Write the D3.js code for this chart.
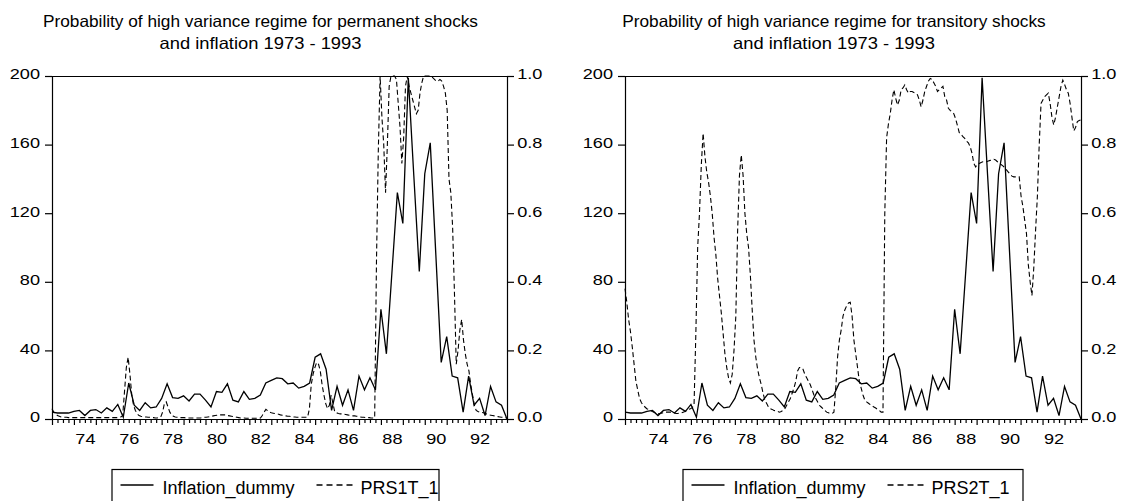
<!DOCTYPE html>
<html>
<head>
<meta charset="utf-8">
<script src="https://cdn.jsdelivr.net/npm/d3@7"></script>
<style>
  body { margin: 0; background: #fff; }
  svg { display: block; font-family: "Liberation Sans", Arial, sans-serif; }
</style>
</head>
<body>
<script>
// quarterly inflation dummy, 1973Q1 - 1993Q4
const inflation = [
  4, 3.5, 3.5, 3.5, 4.5, 5, 2, 5, 5.5, 3.5,
  6.5, 4.5, 8.5, 1, 21, 8, 5, 9.5, 6.5, 7,
  12, 20.5, 12.5, 12, 13.5, 10.5, 14.5, 14.5, 11, 7,
  16, 15.5, 20.5, 11, 10, 16, 11.5, 12, 14, 21,
  22.5, 24, 23.5, 20.5, 21, 18, 19, 21, 36, 38,
  29, 5, 19, 8, 17, 5, 25, 17, 24, 17,
  64, 38, 85, 132, 114, 199, 142, 86, 143, 161,
  97, 33, 48, 25, 24, 4, 25, 8, 12, 2,
  19, 10, 8, 0
];

// monthly regime probabilities, 1973M1 - 1993M12 (one row per year)
const prs1t = [
  0.03, 0.02, 0.015, 0.01, 0.008, 0.006, 0.005, 0.005, 0.005, 0.004, 0.004, 0.004,
  0.004, 0.004, 0.004, 0.004, 0.004, 0.004, 0.004, 0.004, 0.004, 0.004, 0.004, 0.004,
  0.004, 0.004, 0.004, 0.004, 0.004, 0.004, 0.004, 0.004, 0.004, 0.004, 0.004, 0.004,
  0.004, 0.005, 0.006, 0.01, 0.08, 0.15, 0.18, 0.13, 0.07, 0.04, 0.025, 0.015,
  0.01, 0.008, 0.007, 0.006, 0.006, 0.005, 0.005, 0.004, 0.004, 0.003, 0.003, 0.004,
  0.006, 0.02, 0.045, 0.05, 0.035, 0.02, 0.012, 0.008, 0.006, 0.005, 0.004, 0.004,
  0.004, 0.004, 0.003, 0.003, 0.003, 0.003, 0.003, 0.003, 0.003, 0.003, 0.003, 0.004,
  0.005, 0.005, 0.006, 0.007, 0.008, 0.009, 0.01, 0.011, 0.012, 0.012, 0.012, 0.012,
  0.012, 0.01, 0.009, 0.008, 0.007, 0.006, 0.005, 0.004, 0.003, 0.003, 0.003, 0.002,
  0.002, 0.002, 0.002, 0.002, 0.002, 0.002, 0.002, 0.003, 0.01, 0.02, 0.028, 0.024,
  0.02, 0.018, 0.017, 0.016, 0.015, 0.014, 0.012, 0.011, 0.01, 0.009, 0.008, 0.008,
  0.007, 0.006, 0.006, 0.005, 0.005, 0.005, 0.005, 0.005, 0.005, 0.005, 0.03, 0.1,
  0.13, 0.15, 0.165, 0.16, 0.14, 0.1, 0.07, 0.045, 0.03, 0.04, 0.07, 0.045,
  0.02, 0.018, 0.016, 0.015, 0.015, 0.014, 0.013, 0.012, 0.011, 0.01, 0.009, 0.009,
  0.008, 0.007, 0.006, 0.005, 0.005, 0.004, 0.004, 0.004, 0.003, 0.003, 0.003, 0.46,
  0.78, 1.0, 0.88, 0.8, 0.66, 0.8, 0.97, 1.0, 1.0, 1.0, 0.99, 0.92,
  0.85, 0.745, 0.82, 0.97, 1.0, 0.97, 0.95, 0.93, 0.91, 0.89, 0.9, 0.95,
  0.98, 1.0, 1.0, 1.0, 1.0, 1.0, 0.995, 0.99, 0.985, 0.985, 0.99, 0.985,
  0.97, 0.95, 0.9, 0.7, 0.66, 0.56, 0.37, 0.16, 0.2, 0.26, 0.29, 0.23,
  0.19, 0.16, 0.14, 0.1, 0.07, 0.04, 0.025, 0.022, 0.02, 0.019, 0.018, 0.016,
  0.014, 0.012, 0.011, 0.01, 0.009, 0.008, 0.007, 0.006, 0.005, 0.005, 0.004, 0.003
];

const prs2t = [
  0.38, 0.34, 0.29, 0.255, 0.21, 0.16, 0.11, 0.085, 0.06, 0.048, 0.04, 0.035,
  0.03, 0.028, 0.025, 0.022, 0.02, 0.018, 0.016, 0.016, 0.017, 0.018, 0.02, 0.02,
  0.02, 0.02, 0.019, 0.018, 0.016, 0.016, 0.017, 0.018, 0.02, 0.022, 0.025, 0.028,
  0.03, 0.033, 0.04, 0.25, 0.5, 0.6, 0.74, 0.833, 0.765, 0.72, 0.69, 0.65,
  0.6, 0.53, 0.48, 0.41, 0.36, 0.31, 0.25, 0.19, 0.15, 0.12, 0.105, 0.13,
  0.2, 0.3, 0.55, 0.71, 0.77, 0.71, 0.6, 0.54, 0.5, 0.42, 0.32, 0.23,
  0.18, 0.145, 0.12, 0.1, 0.075, 0.055, 0.045, 0.035, 0.03, 0.028, 0.025, 0.024,
  0.022, 0.02, 0.022, 0.025, 0.03, 0.04, 0.05, 0.06, 0.075, 0.09, 0.11, 0.14,
  0.15, 0.15, 0.145, 0.13, 0.12, 0.11, 0.1, 0.085, 0.07, 0.06, 0.05, 0.04,
  0.035, 0.03, 0.025, 0.02, 0.018, 0.016, 0.016, 0.02, 0.09, 0.18, 0.23, 0.26,
  0.3, 0.318, 0.33, 0.338, 0.34, 0.3, 0.23, 0.19, 0.15, 0.11, 0.09, 0.07,
  0.055, 0.05, 0.046, 0.042, 0.038, 0.035, 0.032, 0.028, 0.025, 0.02, 0.02, 0.6,
  0.82, 0.86, 0.89, 0.93, 0.96, 0.935, 0.915, 0.93, 0.96, 0.965, 0.974, 0.96,
  0.95, 0.955, 0.955, 0.952, 0.95, 0.945, 0.93, 0.91, 0.93, 0.955, 0.97, 0.985,
  0.993, 0.99, 0.98, 0.97, 0.955, 0.96, 0.965, 0.97, 0.94, 0.93, 0.906, 0.9,
  0.895, 0.89, 0.875, 0.855, 0.835, 0.83, 0.823, 0.818, 0.81, 0.805, 0.794, 0.775,
  0.745, 0.735, 0.743, 0.745, 0.748, 0.75, 0.75, 0.75, 0.752, 0.754, 0.755, 0.757,
  0.755, 0.75, 0.745, 0.742, 0.738, 0.733, 0.726, 0.72, 0.714, 0.708, 0.706, 0.706,
  0.706, 0.706, 0.65, 0.62, 0.58, 0.54, 0.45, 0.4, 0.36, 0.44, 0.55, 0.65,
  0.8, 0.92, 0.93, 0.94, 0.945, 0.95, 0.92, 0.88, 0.857, 0.88, 0.91, 0.94,
  0.97, 0.988, 0.975, 0.96, 0.95, 0.92, 0.88, 0.84, 0.85, 0.867, 0.87, 0.872
];

const leftTicks = [0, 40, 80, 120, 160, 200];
const rightTicks = [0, 0.2, 0.4, 0.6, 0.8, 1.0];
const yearLabels = ["74", "76", "78", "80", "82", "84", "86", "88", "90", "92"];

const W = 1123, H = 501;
const plotTop = 76, plotBottom = 419;
const stretch = 1.25;   // tick labels look horizontally stretched in the original

const panels = [
  { left: 52, right: 507, prs: prs1t, name: "PRS1T_1",
    title: ["Probability of high variance regime for permanent shocks", "and inflation 1973 - 1993"],
    titleX: 260.5, legX: 111.5, legW: 327 },
  { left: 625, right: 1081, prs: prs2t, name: "PRS2T_1",
    title: ["Probability of high variance regime for transitory shocks", "and inflation 1973 - 1993"],
    titleX: 834, legX: 682.5, legW: 340 }
];

const svg = d3.select("body").append("svg")
    .attr("width", W)
    .attr("height", H);

let titleFactor = null;

panels.forEach(p => {
    const g = svg.append("g");

    const xQ = d3.scaleLinear().domain([0, inflation.length - 1]).range([p.left, p.right]);
    const xM = d3.scaleLinear().domain([0, p.prs.length - 1]).range([p.left, p.right]);
    const yL = d3.scaleLinear().domain([0, 200]).range([plotBottom, plotTop]);
    const yR = d3.scaleLinear().domain([0, 1]).range([plotBottom, plotTop]);

    // titles (tightly set in the original, so squeeze a slightly larger font)
    p.title.forEach((t, k) => {
        const txt = g.append("text")
            .attr("x", p.titleX)
            .attr("y", 27 + k * 22)
            .attr("text-anchor", "middle")
            .attr("font-size", 16.5)
            .attr("fill", "#000")
            .text(t);
        const natural = txt.node().getComputedTextLength();
        if (k === 0 && titleFactor === null) titleFactor = 435 / natural;
        const f = k === 0 ? titleFactor : 202 / natural;
        txt.attr("textLength", natural * f).attr("lengthAdjust", "spacingAndGlyphs");
    });

    // left axis
    const axL = g.append("g")
        .attr("transform", `translate(${p.left},0)`)
        .call(d3.axisLeft(yL).tickValues(leftTicks).tickSize(7).tickSizeOuter(0));
    axL.selectAll("text")
        .attr("x", -9.6).attr("dy", "0.2em")
        .attr("transform", `scale(${stretch},1)`);

    // right axis
    const axR = g.append("g")
        .attr("transform", `translate(${p.right},0)`)
        .call(d3.axisRight(yR).tickValues(rightTicks).tickFormat(d3.format(".1f")).tickSize(7).tickSizeOuter(0));
    axR.selectAll("text")
        .attr("x", 8.2).attr("dy", "0.2em")
        .attr("transform", `scale(${stretch},1)`);

    // bottom axis: one tick per quarter, labels mid-year
    const labelIdx = yearLabels.map(y => (+y - 73) * 4 + 2);
    const axB = g.append("g")
        .attr("transform", `translate(0,${plotBottom})`)
        .call(d3.axisBottom(xQ)
            .tickValues(d3.range(inflation.length))
            .tickSize(4)
            .tickSizeOuter(0)
            .tickFormat(i => {
                const k = labelIdx.indexOf(i);
                return k >= 0 ? yearLabels[k] : "";
            }));
    axB.selectAll(".tick line").attr("y2", i => i % 4 === 0 ? 6 : 4);
    axB.selectAll("text")
        .attr("y", 25.5).attr("dy", 0)
        .attr("transform", `scale(${stretch},1)`);

    [axL, axR, axB].forEach(a => {
        a.attr("font-family", null).attr("font-size", 14.5);
        a.selectAll("path, line").attr("stroke", "#000").attr("stroke-width", 1.2);
        a.selectAll("text").attr("fill", "#000");
    });

    // top frame line
    g.append("line")
        .attr("x1", p.left).attr("x2", p.right)
        .attr("y1", plotTop + 0.5).attr("y2", plotTop + 0.5)
        .attr("stroke", "#000").attr("stroke-width", 1.2);

    // series
    g.append("path")
        .datum(p.prs)
        .attr("fill", "none")
        .attr("stroke", "#000")
        .attr("stroke-width", 1.1)
        .attr("stroke-dasharray", "5,3")
        .attr("d", d3.line().x((d, i) => xM(i)).y(d => yR(d)));

    g.append("path")
        .datum(inflation)
        .attr("fill", "none")
        .attr("stroke", "#000")
        .attr("stroke-width", 1.3)
        .attr("d", d3.line().x((d, i) => xQ(i)).y(d => yL(d)));

    // legend
    const lg = g.append("g").attr("transform", `translate(${p.legX},469)`);
    lg.append("rect")
        .attr("x", 0.5).attr("y", 0.5)
        .attr("width", p.legW).attr("height", 45)
        .attr("fill", "none").attr("stroke", "#000").attr("stroke-width", 1.2);
    lg.append("line")
        .attr("x1", 9).attr("x2", 42).attr("y1", 16).attr("y2", 16)
        .attr("stroke", "#000").attr("stroke-width", 1.3);
    lg.append("text")
        .attr("x", 51).attr("y", 25)
        .attr("font-size", 18).attr("fill", "#000")
        .text("Inflation_dummy");
    lg.append("line")
        .attr("x1", 205).attr("x2", 241).attr("y1", 16).attr("y2", 16)
        .attr("stroke", "#000").attr("stroke-width", 1.3)
        .attr("stroke-dasharray", "6,4");
    lg.append("text")
        .attr("x", 249).attr("y", 25)
        .attr("font-size", 18).attr("fill", "#000")
        .text(p.name);
});
</script>
</body>
</html>
